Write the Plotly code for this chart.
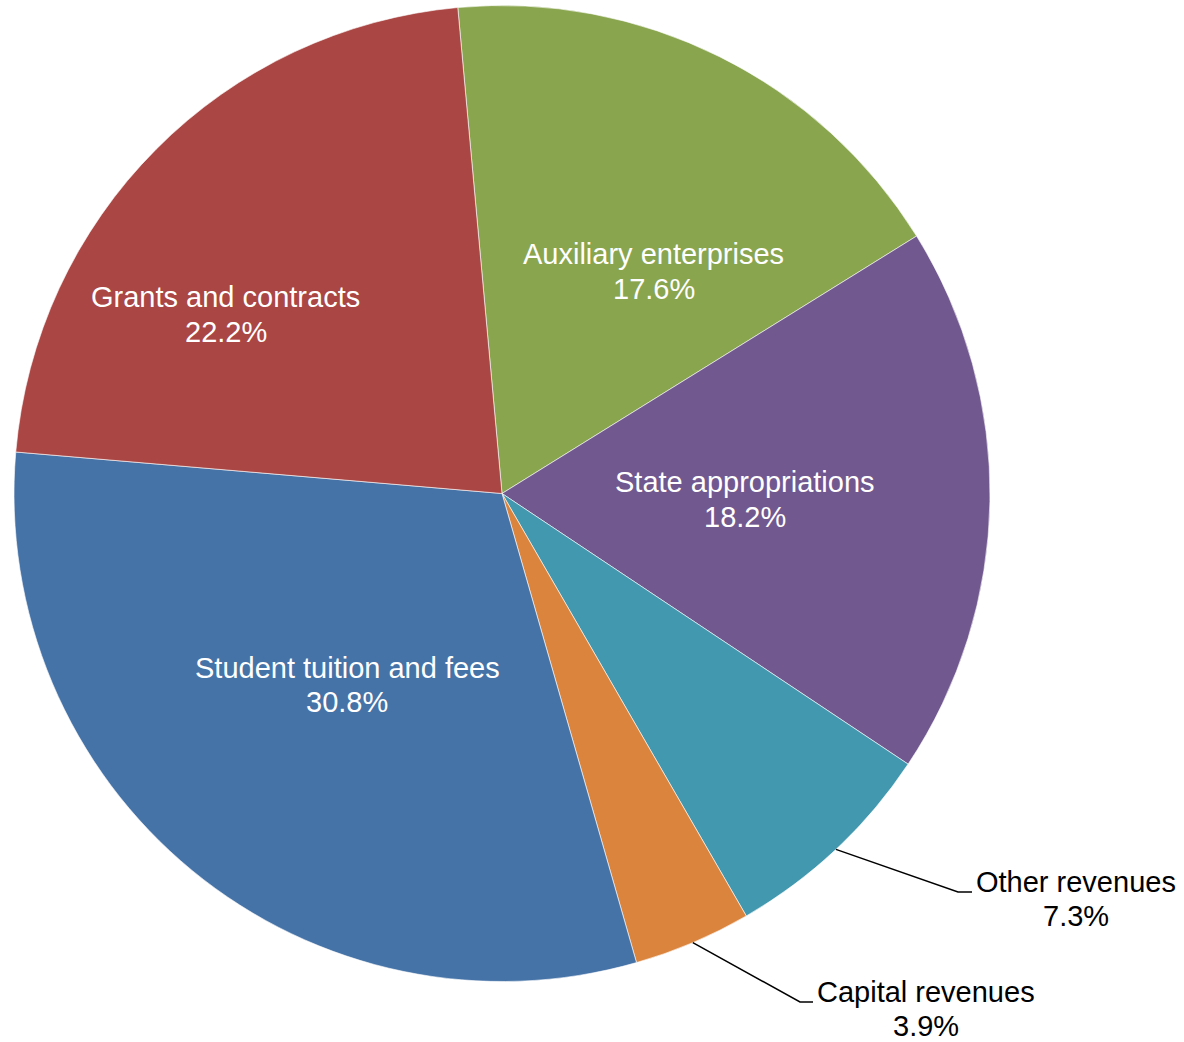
import math
import plotly.graph_objects as go

# Revenue shares (percent), listed clockwise from the top
categories = ["Auxiliary enterprises", "State appropriations", "Other revenues",
              "Capital revenues", "Student tuition and fees", "Grants and contracts"]
shares = [17.6, 18.2, 7.3, 3.9, 30.8, 22.2]
colors = ["#89A54E", "#71588F", "#4198AF", "#DB843D", "#4673A7", "#AA4643"]

W, H = 1184, 1042
CX, CY, R = 502.0, 493.5, 488.0   # pie centre and radius in pixels
START = -5.2                      # start angle of first slice, degrees clockwise from 12 o'clock
FONT = "Liberation Sans, Arial, sans-serif"
FS = 29
LINE_GAP = 34.5                   # distance between the name line and the percent line, px

# Inside labels: (radius fraction, angular shift from the slice middle)
inside_place = {
    "Auxiliary enterprises": (0.551, 7.9),
    "State appropriations": (0.498, 0.5),
    "Student tuition and fees": (0.504, -0.5),
    "Grants and contracts": (0.674, -11.9),
}
# Outside labels: elbow of the leader line and centre of the text block (pixels)
outside_place = {
    "Other revenues": {"elbow": (958, 892), "end": (972, 892), "text": (1076, 899)},
    "Capital revenues": {"elbow": (800, 1002), "end": (813, 1002), "text": (926, 1009)},
}


def px_to_paper(x, y):
    return x / W, 1 - y / H


def polar(angle_deg, r):
    a = math.radians(angle_deg)
    return CX + r * math.sin(a), CY - r * math.cos(a)


def two_line_label(x, y, name, val, color):
    """Name above, percentage below, centred on (x, y) in pixels."""
    out = []
    for text, dy in ((name, -LINE_GAP / 2), (f"{val:.1f}%", LINE_GAP / 2)):
        px, py = px_to_paper(x, y + dy)
        out.append(dict(x=px, y=py, xref="paper", yref="paper", text=text,
                        showarrow=False, xanchor="center", yanchor="middle",
                        font=dict(family=FONT, size=FS, color=color)))
    return out


fig = go.Figure(go.Pie(
    labels=categories,
    values=shares,
    sort=False,
    direction="clockwise",
    rotation=START,
    marker=dict(colors=colors, line=dict(color="white", width=0.6)),
    textinfo="none",
    hoverinfo="label+percent",
    showlegend=False,
    domain=dict(x=[(CX - R) / W, (CX + R) / W],
                y=[1 - (CY + R) / H, 1 - (CY - R) / H]),
))

annotations = []
shapes = []
total = sum(shares)
angle = START
for name, val in zip(categories, shares):
    span = 360.0 * val / total
    mid = angle + span / 2
    angle += span
    if name in inside_place:
        frac, shift = inside_place[name]
        x, y = polar(mid + shift, frac * R)
        annotations += two_line_label(x, y, name, val, "white")
    else:
        spec = outside_place[name]
        sx, sy = polar(mid, R)
        pts = [px_to_paper(sx, sy), px_to_paper(*spec["elbow"]), px_to_paper(*spec["end"])]
        path = "M {} {} L {} {} L {} {}".format(*[c for p in pts for c in p])
        shapes.append(dict(type="path", path=path, xref="paper", yref="paper",
                           line=dict(color="black", width=1.5)))
        annotations += two_line_label(*spec["text"], name, val, "black")

fig.update_layout(
    width=W, height=H,
    margin=dict(l=0, r=0, t=0, b=0),
    paper_bgcolor="white",
    plot_bgcolor="white",
    annotations=annotations,
    shapes=shapes,
)

fig.write_html("out.html")
